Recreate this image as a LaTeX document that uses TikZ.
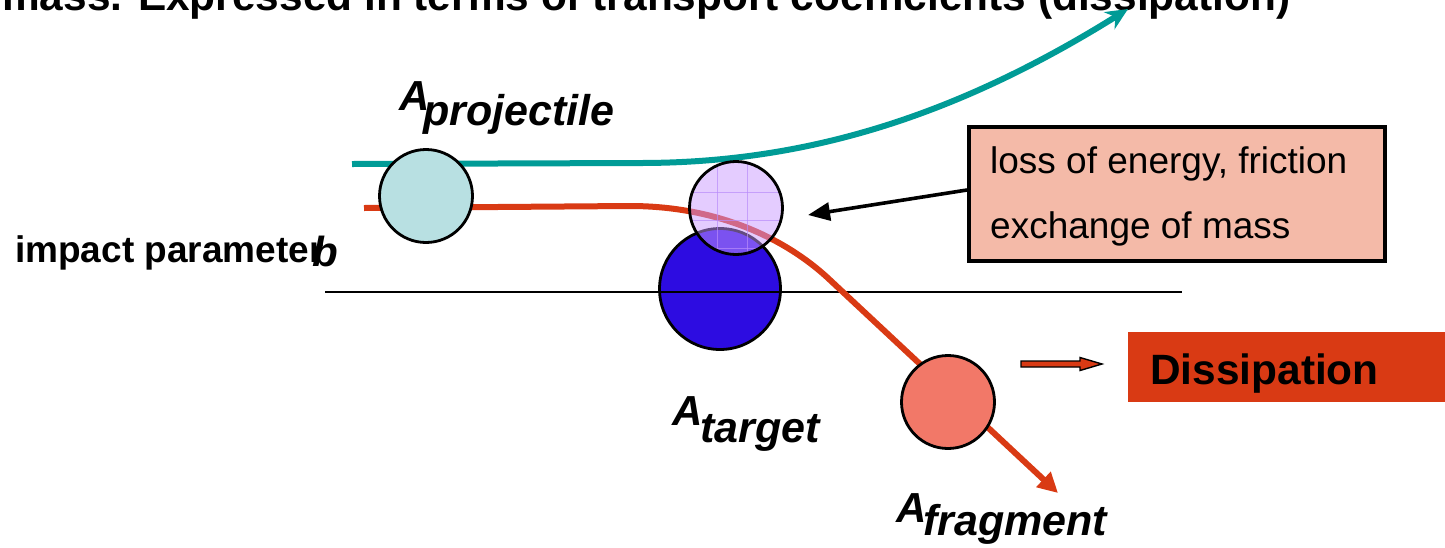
\documentclass[tikz,border=0pt]{standalone}
\usepackage{fontspec}
\setmainfont{Liberation Sans}
\usetikzlibrary{arrows.meta}
\definecolor{tealpath}{RGB}{0,155,150}
\definecolor{redpath}{RGB}{217,58,20}
\definecolor{projfill}{RGB}{184,224,226}
\definecolor{targfill}{RGB}{45,12,225}
\definecolor{lavfill}{RGB}{201,153,255}
\definecolor{lavgrid}{RGB}{185,140,250}
\definecolor{fragfill}{RGB}{242,120,104}
\definecolor{notefill}{RGB}{244,186,168}
\begin{document}
\begin{tikzpicture}[x=1pt,y=-1pt,
  ball/.style={circle,draw=black,line width=2.8pt,inner sep=0pt,minimum size=#1},
  bigA/.style={anchor=base west,inner sep=0pt,font=\bfseries\itshape\fontsize{42}{42}\selectfont},
  subA/.style={anchor=base west,inner sep=0pt,font=\bfseries\itshape\fontsize{43}{43}\selectfont},
  notetext/.style={anchor=base west,inner sep=0pt,font=\fontsize{37}{37}\selectfont},
  boldtext/.style={anchor=base west,inner sep=0pt,font=\bfseries\fontsize{42.4}{42.4}\selectfont}]
\useasboundingbox (0,0) rectangle (1445,547);

% heading line running off the top edge
\begin{scope}
  \clip (0,0) rectangle (1445,547);
  \node[boldtext] (head) at (2,10) {mass. Expressed in terms of transport coefficients (dissipation)};
\end{scope}

% target nucleus and reference line
\node[ball=121pt,fill=targfill] (targ) at (720,289) {};
\coordinate (lineL) at (325,292);
\coordinate (lineR) at (1182,292);
\draw[line width=2.2pt] (lineL) -- (lineR);

% trajectories
\coordinate (tealS) at (352,164);
\coordinate (tealM) at (640,163);
\coordinate (tealE) at (1128,9);
\draw[tealpath,line width=6pt,-{Stealth[length=22pt,width=20pt]}]
  (tealS) -- (tealM) .. controls (800,163) and (950,120) .. (tealE);

\coordinate (redS) at (364,208);
\coordinate (redM) at (630,206);
\coordinate (redK) at (830,280);
\coordinate (redE) at (1058,493);
\draw[redpath,line width=6pt,-{Triangle[length=20pt,width=20pt]}]
  (redS) -- (redM) .. controls (725,206) and (792,244) .. (redK) -- (redE);

% projectile
\node[ball=93pt,fill=projfill] (proj) at (426,196) {};

% overlap (contact) sphere, translucent
\node[circle,inner sep=0pt,minimum size=93pt,fill=lavfill,fill opacity=0.5] (lav) at (736,208) {};
\begin{scope}
  \clip (lav.center) circle (46.5pt);
  \foreach \gx in {717,747} \draw[lavgrid,line width=0.7pt,opacity=0.7] (\gx,150) -- (\gx,260);
  \foreach \gy in {192,220,248} \draw[lavgrid,line width=0.7pt,opacity=0.7] (680,\gy) -- (790,\gy);
\end{scope}
\draw[line width=2.8pt] (lav.center) circle (46.5pt);

% fragment
\node[ball=93pt,fill=fragfill] (frag) at (948,402) {};

% labels
\node[bigA] (Ap) at (399,110) {A};
\node[subA] (Ap2) at (423,125) {projectile};
\node[bigA] (At) at (672,425) {A};
\node[subA] (At2) at (700,442) {target};
\node[bigA] (Af) at (896,522) {A};
\node[subA] (Af2) at (923,535) {fragment};

\node[anchor=base west,inner sep=0pt,font=\bfseries\fontsize{37}{37}\selectfont] (imp) at (15,262) {impact parameter};
\node[bigA] (bb) at (312,266) {b};

% note box and its pointer
\node[draw=black,line width=3.8pt,fill=notefill,anchor=north west,inner sep=0pt,
      minimum width=416pt,minimum height=134pt] (note) at (967,125) {};
\node[notetext] (n1) at (990,173) {loss of energy, friction};
\node[notetext] (n2) at (990,238) {exchange of mass};
\coordinate (noteP) at (967,190);
\coordinate (noteT) at (808,215);
\draw[line width=3.6pt,-{Triangle[length=22pt,width=18pt]}] (noteP) -- (noteT);

% block arrow and result box
\draw[fill=redpath,line width=1.4pt] (1021,361) -- (1080,361) -- (1080,357.5) -- (1102,364)
  -- (1080,370.5) -- (1080,367) -- (1021,367) -- cycle;
\node[fill=redpath,anchor=north west,inner sep=0pt,minimum width=317pt,minimum height=70pt] (diss) at (1128,332) {};
\node[boldtext] (disst) at (1150,384) {Dissipation};
\end{tikzpicture}
\end{document}
